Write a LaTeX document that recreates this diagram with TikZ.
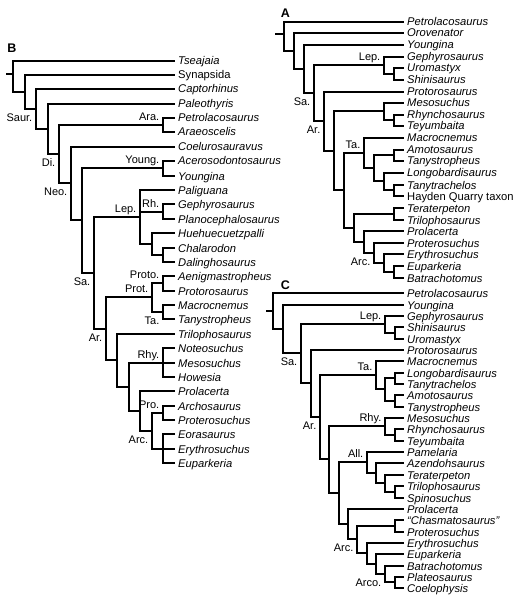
\documentclass[tikz,border=0pt]{standalone}
\usepackage{fontspec}
\setmainfont{Liberation Sans}
\begin{document}
\begin{tikzpicture}[x=1bp,y=-1bp,
  br/.style={line width=2bp},
  taxon/.style={anchor=west, inner xsep=3bp, inner ysep=0pt, text height=8bp, text depth=0pt, font=\fontsize{11.2bp}{13bp}\selectfont\itshape},
  taxonup/.style={taxon, font=\fontsize{11.2bp}{13bp}\selectfont\upshape},
  cladeup/.style={anchor=south east, inner sep=0pt, text height=8bp, text depth=0pt, xshift=-3.5bp, yshift=4.5bp, font=\fontsize{11bp}{13bp}\selectfont},
  cladedown/.style={anchor=north east, inner sep=0pt, text height=8bp, text depth=0pt, xshift=-3.5bp, yshift=-4.5bp, font=\fontsize{11bp}{13bp}\selectfont},
  panel/.style={anchor=north west, inner sep=0pt, font=\fontsize{12.5bp}{14bp}\selectfont\bfseries}]
\useasboundingbox (0,0) rectangle (518,600);

% ---------------- Panel B ----------------
\node[panel] (pB) at (7.3,43.3) {B};
\node[taxon] (b0) at (175,61) {Tseajaia};
\node[taxonup] (b1) at (175,75) {Synapsida};
\node[taxon] (b2) at (175,89) {Captorhinus};
\node[taxon] (b3) at (175,104) {Paleothyris};
\node[taxon] (b4) at (175,118) {Petrolacosaurus};
\node[taxon] (b5) at (175,132) {Araeoscelis};
\node[taxon] (b6) at (175,147) {Coelurosauravus};
\node[taxon] (b7) at (175,161) {Acerosodontosaurus};
\node[taxon] (b8) at (175,176) {Youngina};
\node[taxon] (b9) at (175,190) {Paliguana};
\node[taxon] (b10) at (175,204) {Gephyrosaurus};
\node[taxon] (b11) at (175,219) {Planocephalosaurus};
\node[taxon] (b12) at (175,233) {Huehuecuetzpalli};
\node[taxon] (b13) at (175,248) {Chalarodon};
\node[taxon] (b14) at (175,262) {Dalinghosaurus};
\node[taxon] (b15) at (175,276) {Aenigmastropheus};
\node[taxon] (b16) at (175,291) {Protorosaurus};
\node[taxon] (b17) at (175,305) {Macrocnemus};
\node[taxon] (b18) at (175,319) {Tanystropheus};
\node[taxon] (b19) at (175,334) {Trilophosaurus};
\node[taxon] (b20) at (175,348) {Noteosuchus};
\node[taxon] (b21) at (175,363) {Mesosuchus};
\node[taxon] (b22) at (175,377) {Howesia};
\node[taxon] (b23) at (175,391) {Prolacerta};
\node[taxon] (b24) at (175,406) {Archosaurus};
\node[taxon] (b25) at (175,420) {Proterosuchus};
\node[taxon] (b26) at (175,434) {Eorasaurus};
\node[taxon] (b27) at (175,449) {Erythrosuchus};
\node[taxon] (b28) at (175,463) {Euparkeria};

\coordinate (bS) at (6,74);
\coordinate (broot) at (13,74);
\coordinate (bn2) at (25,92);
\coordinate (bSaur) at (36,109);
\coordinate (bn4) at (48,129);
\coordinate (bDi) at (59,154);
\coordinate (bAra) at (163,125);
\coordinate (bNeo) at (71,183);
\coordinate (bn7) at (82,220);
\coordinate (bYoung) at (163,168);
\coordinate (bSa) at (94,273);
\coordinate (bLep) at (140,217);
\coordinate (bRh) at (163,212);
\coordinate (bHue) at (152,244);
\coordinate (bCha) at (163,255);
\coordinate (bAr) at (106,329);
\coordinate (bProt) at (152,297);
\coordinate (bProto) at (163,283);
\coordinate (bTa) at (163,312);
\coordinate (bn9) at (117,360);
\coordinate (bn10) at (129,387);
\coordinate (bRhy) at (163,363);
\coordinate (bPL) at (140,411);
\coordinate (bArc) at (152,431);
\coordinate (bPro) at (163,413);
\coordinate (bEry) at (163,449);

\draw[br] (bS) -- (broot);
\foreach \p/\c in {broot/b0,broot/bn2,bn2/b1,bn2/bSaur,bSaur/b2,bSaur/bn4,bn4/b3,bn4/bDi,
  bDi/bAra,bDi/bNeo,bAra/b4,bAra/b5,bNeo/b6,bNeo/bn7,bn7/bYoung,bn7/bSa,bYoung/b7,bYoung/b8,
  bSa/bLep,bSa/bAr,bLep/b9,bLep/bRh,bLep/bHue,bRh/b10,bRh/b11,bHue/b12,bHue/bCha,bCha/b13,bCha/b14,
  bAr/bProt,bAr/bn9,bProt/bProto,bProt/bTa,bProto/b15,bProto/b16,bTa/b17,bTa/b18,
  bn9/b19,bn9/bn10,bn10/bRhy,bn10/bPL,bRhy/b20,bRhy/b21,bRhy/b22,bPL/b23,bPL/bArc,
  bArc/bPro,bArc/bEry,bPro/b24,bPro/b25,bEry/b26,bEry/b27,bEry/b28}
  \draw[br] (\p) |- (\c);

\node[cladedown] (lbSaur) at (bSaur) {Saur.};
\node[cladedown] (lbDi) at (bDi) {Di.};
\node[cladedown] (lbNeo) at (bNeo) {Neo.};
\node[cladeup] (lbAra) at (bAra) {Ara.};
\node[cladeup] (lbYoung) at (bYoung) {Young.};
\node[cladeup] (lbLep) at (bLep) {Lep.};
\node[cladeup] (lbRh) at (bRh) {Rh.};
\node[cladedown] (lbSa) at (bSa) {Sa.};
\node[cladeup] (lbProto) at (bProto) {Proto.};
\node[cladeup] (lbProt) at (bProt) {Prot.};
\node[cladedown] (lbTa) at (bTa) {Ta.};
\node[cladedown] (lbAr) at (bAr) {Ar.};
\node[cladeup] (lbRhy) at (bRhy) {Rhy.};
\node[cladeup] (lbPro) at (bPro) {Pro.};
\node[cladedown] (lbArc) at (bArc) {Arc.};

% ---------------- Panel A ----------------
\node[panel] (pA) at (280.7,8.3) {A};
\node[taxon] (a0) at (404,22) {Petrolacosaurus};
\node[taxon] (a1) at (404,33) {Orovenator};
\node[taxon] (a2) at (404,45) {Youngina};
\node[taxon] (a3) at (404,57) {Gephyrosaurus};
\node[taxon] (a4) at (404,68) {Uromastyx};
\node[taxon] (a5) at (404,80) {Shinisaurus};
\node[taxon] (a6) at (404,92) {Protorosaurus};
\node[taxon] (a7) at (404,103) {Mesosuchus};
\node[taxon] (a8) at (404,115) {Rhynchosaurus};
\node[taxon] (a9) at (404,126) {Teyumbaita};
\node[taxon] (a10) at (404,138) {Macrocnemus};
\node[taxon] (a11) at (404,150) {Amotosaurus};
\node[taxon] (a12) at (404,161) {Tanystropheus};
\node[taxon] (a13) at (404,173) {Longobardisaurus};
\node[taxon] (a14) at (404,185) {Tanytrachelos};
\node[taxonup] (a15) at (404,196) {Hayden Quarry taxon};
\node[taxon] (a16) at (404,208) {Teraterpeton};
\node[taxon] (a17) at (404,220) {Trilophosaurus};
\node[taxon] (a18) at (404,231) {Prolacerta};
\node[taxon] (a19) at (404,243) {Proterosuchus};
\node[taxon] (a20) at (404,254) {Erythrosuchus};
\node[taxon] (a21) at (404,266) {Euparkeria};
\node[taxon] (a22) at (404,278) {Batrachotomus};

\coordinate (aS) at (275,34);
\coordinate (aroot) at (284,34);
\coordinate (an2) at (294,51);
\coordinate (an3) at (304,69);
\coordinate (aSa) at (314,93);
\coordinate (aLep) at (384,65);
\coordinate (aUro) at (394,74);
\coordinate (aAr) at (324,121);
\coordinate (an5) at (334,151);
\coordinate (aMes) at (384,111);
\coordinate (aRhy) at (394,120);
\coordinate (an6) at (344,190);
\coordinate (aTa) at (364,153);
\coordinate (aTaI) at (374,168);
\coordinate (aAmo) at (394,155);
\coordinate (aLon) at (384,181);
\coordinate (aTan) at (394,190);
\coordinate (an7) at (354,228);
\coordinate (aTer) at (394,214);
\coordinate (aPL) at (364,242);
\coordinate (aArc) at (374,253);
\coordinate (aEry) at (384,263);
\coordinate (aEup) at (394,272);

\draw[br] (aS) -- (aroot);
\foreach \p/\c in {aroot/a0,aroot/an2,an2/a1,an2/an3,an3/a2,an3/aSa,aSa/aLep,aSa/aAr,
  aLep/a3,aLep/aUro,aUro/a4,aUro/a5,aAr/a6,aAr/an5,an5/aMes,an5/an6,aMes/a7,aMes/aRhy,
  aRhy/a8,aRhy/a9,an6/aTa,an6/an7,aTa/a10,aTa/aTaI,aTaI/aAmo,aTaI/aLon,aAmo/a11,aAmo/a12,
  aLon/a13,aLon/aTan,aTan/a14,aTan/a15,an7/aTer,an7/aPL,aTer/a16,aTer/a17,aPL/a18,aPL/aArc,
  aArc/a19,aArc/aEry,aEry/a20,aEry/aEup,aEup/a21,aEup/a22}
  \draw[br] (\p) |- (\c);

\node[cladeup] (laLep) at (aLep) {Lep.};
\node[cladedown] (laSa) at (aSa) {Sa.};
\node[cladedown] (laAr) at (aAr) {Ar.};
\node[cladeup] (laTa) at (aTa) {Ta.};
\node[cladedown] (laArc) at (aArc) {Arc.};

% ---------------- Panel C ----------------
\node[panel] (pC) at (280.7,280.7) {C};
\node[taxon] (c0) at (404,293) {Petrolacosaurus};
\node[taxon] (c1) at (404,305) {Youngina};
\node[taxon] (c2) at (404,316) {Gephyrosaurus};
\node[taxon] (c3) at (404,327) {Shinisaurus};
\node[taxon] (c4) at (404,339) {Uromastyx};
\node[taxon] (c5) at (404,350) {Protorosaurus};
\node[taxon] (c6) at (404,361) {Macrocnemus};
\node[taxon] (c7) at (404,373) {Longobardisaurus};
\node[taxon] (c8) at (404,384) {Tanytrachelos};
\node[taxon] (c9) at (404,395) {Amotosaurus};
\node[taxon] (c10) at (404,407) {Tanystropheus};
\node[taxon] (c11) at (404,418) {Mesosuchus};
\node[taxon] (c12) at (404,429) {Rhynchosaurus};
\node[taxon] (c13) at (404,441) {Teyumbaita};
\node[taxon] (c14) at (404,452) {Pamelaria};
\node[taxon] (c15) at (404,463) {Azendohsaurus};
\node[taxon] (c16) at (404,475) {Teraterpeton};
\node[taxon] (c17) at (404,486) {Trilophosaurus};
\node[taxon] (c18) at (404,498) {Spinosuchus};
\node[taxon] (c19) at (404,509) {Prolacerta};
\node[taxon] (c20) at (404,520) {“Chasmatosaurus”};
\node[taxon] (c21) at (404,532) {Proterosuchus};
\node[taxon] (c22) at (404,543) {Erythrosuchus};
\node[taxon] (c23) at (404,554) {Euparkeria};
\node[taxon] (c24) at (404,566) {Batrachotomus};
\node[taxon] (c25) at (404,577) {Plateosaurus};
\node[taxon] (c26) at (404,588) {Coelophysis};

\coordinate (cS) at (266,311);
\coordinate (croot) at (273,311);
\coordinate (cn2) at (283,329);
\coordinate (cSa) at (301,353);
\coordinate (cLep) at (385,324);
\coordinate (cShi) at (395,333);
\coordinate (cAr) at (311,383);
\coordinate (cn5) at (320,417);
\coordinate (cTa) at (376,375);
\coordinate (cTaI) at (385,389);
\coordinate (cLon) at (395,378);
\coordinate (cAmo) at (395,401);
\coordinate (cn6) at (329,459);
\coordinate (cRhy) at (385,426);
\coordinate (cRhT) at (395,435);
\coordinate (cn7) at (339,493);
\coordinate (cAll) at (367,462);
\coordinate (cAze) at (376,473);
\coordinate (cTer) at (385,483);
\coordinate (cTri) at (395,492);
\coordinate (cPL) at (348,524);
\coordinate (cArc) at (357,539);
\coordinate (cCha) at (395,526);
\coordinate (cEry) at (367,553);
\coordinate (cEup) at (376,564);
\coordinate (cArco) at (385,574);
\coordinate (cPla) at (395,582);

\draw[br] (cS) -- (croot);
\foreach \p/\c in {croot/c0,croot/cn2,cn2/c1,cn2/cSa,cSa/cLep,cSa/cAr,cLep/c2,cLep/cShi,
  cShi/c3,cShi/c4,cAr/c5,cAr/cn5,cn5/cTa,cn5/cn6,cTa/c6,cTa/cTaI,cTaI/cLon,cTaI/cAmo,
  cLon/c7,cLon/c8,cAmo/c9,cAmo/c10,cn6/cRhy,cn6/cn7,cRhy/c11,cRhy/cRhT,cRhT/c12,cRhT/c13,
  cn7/cAll,cn7/cPL,cAll/c14,cAll/cAze,cAze/c15,cAze/cTer,cTer/c16,cTer/cTri,cTri/c17,cTri/c18,
  cPL/c19,cPL/cArc,cArc/cCha,cArc/cEry,cCha/c20,cCha/c21,cEry/c22,cEry/cEup,cEup/c23,cEup/cArco,
  cArco/c24,cArco/cPla,cPla/c25,cPla/c26}
  \draw[br] (\p) |- (\c);

\node[cladeup] (lcLep) at (cLep) {Lep.};
\node[cladedown] (lcSa) at (cSa) {Sa.};
\node[cladeup] (lcTa) at (cTa) {Ta.};
\node[cladedown] (lcAr) at (cn5) {Ar.};
\node[cladeup] (lcRhy) at (cRhy) {Rhy.};
\node[cladeup] (lcAll) at (cAll) {All.};
\node[cladedown] (lcArc) at (cArc) {Arc.};
\node[cladedown] (lcArco) at (cArco) {Arco.};
\end{tikzpicture}
\end{document}
